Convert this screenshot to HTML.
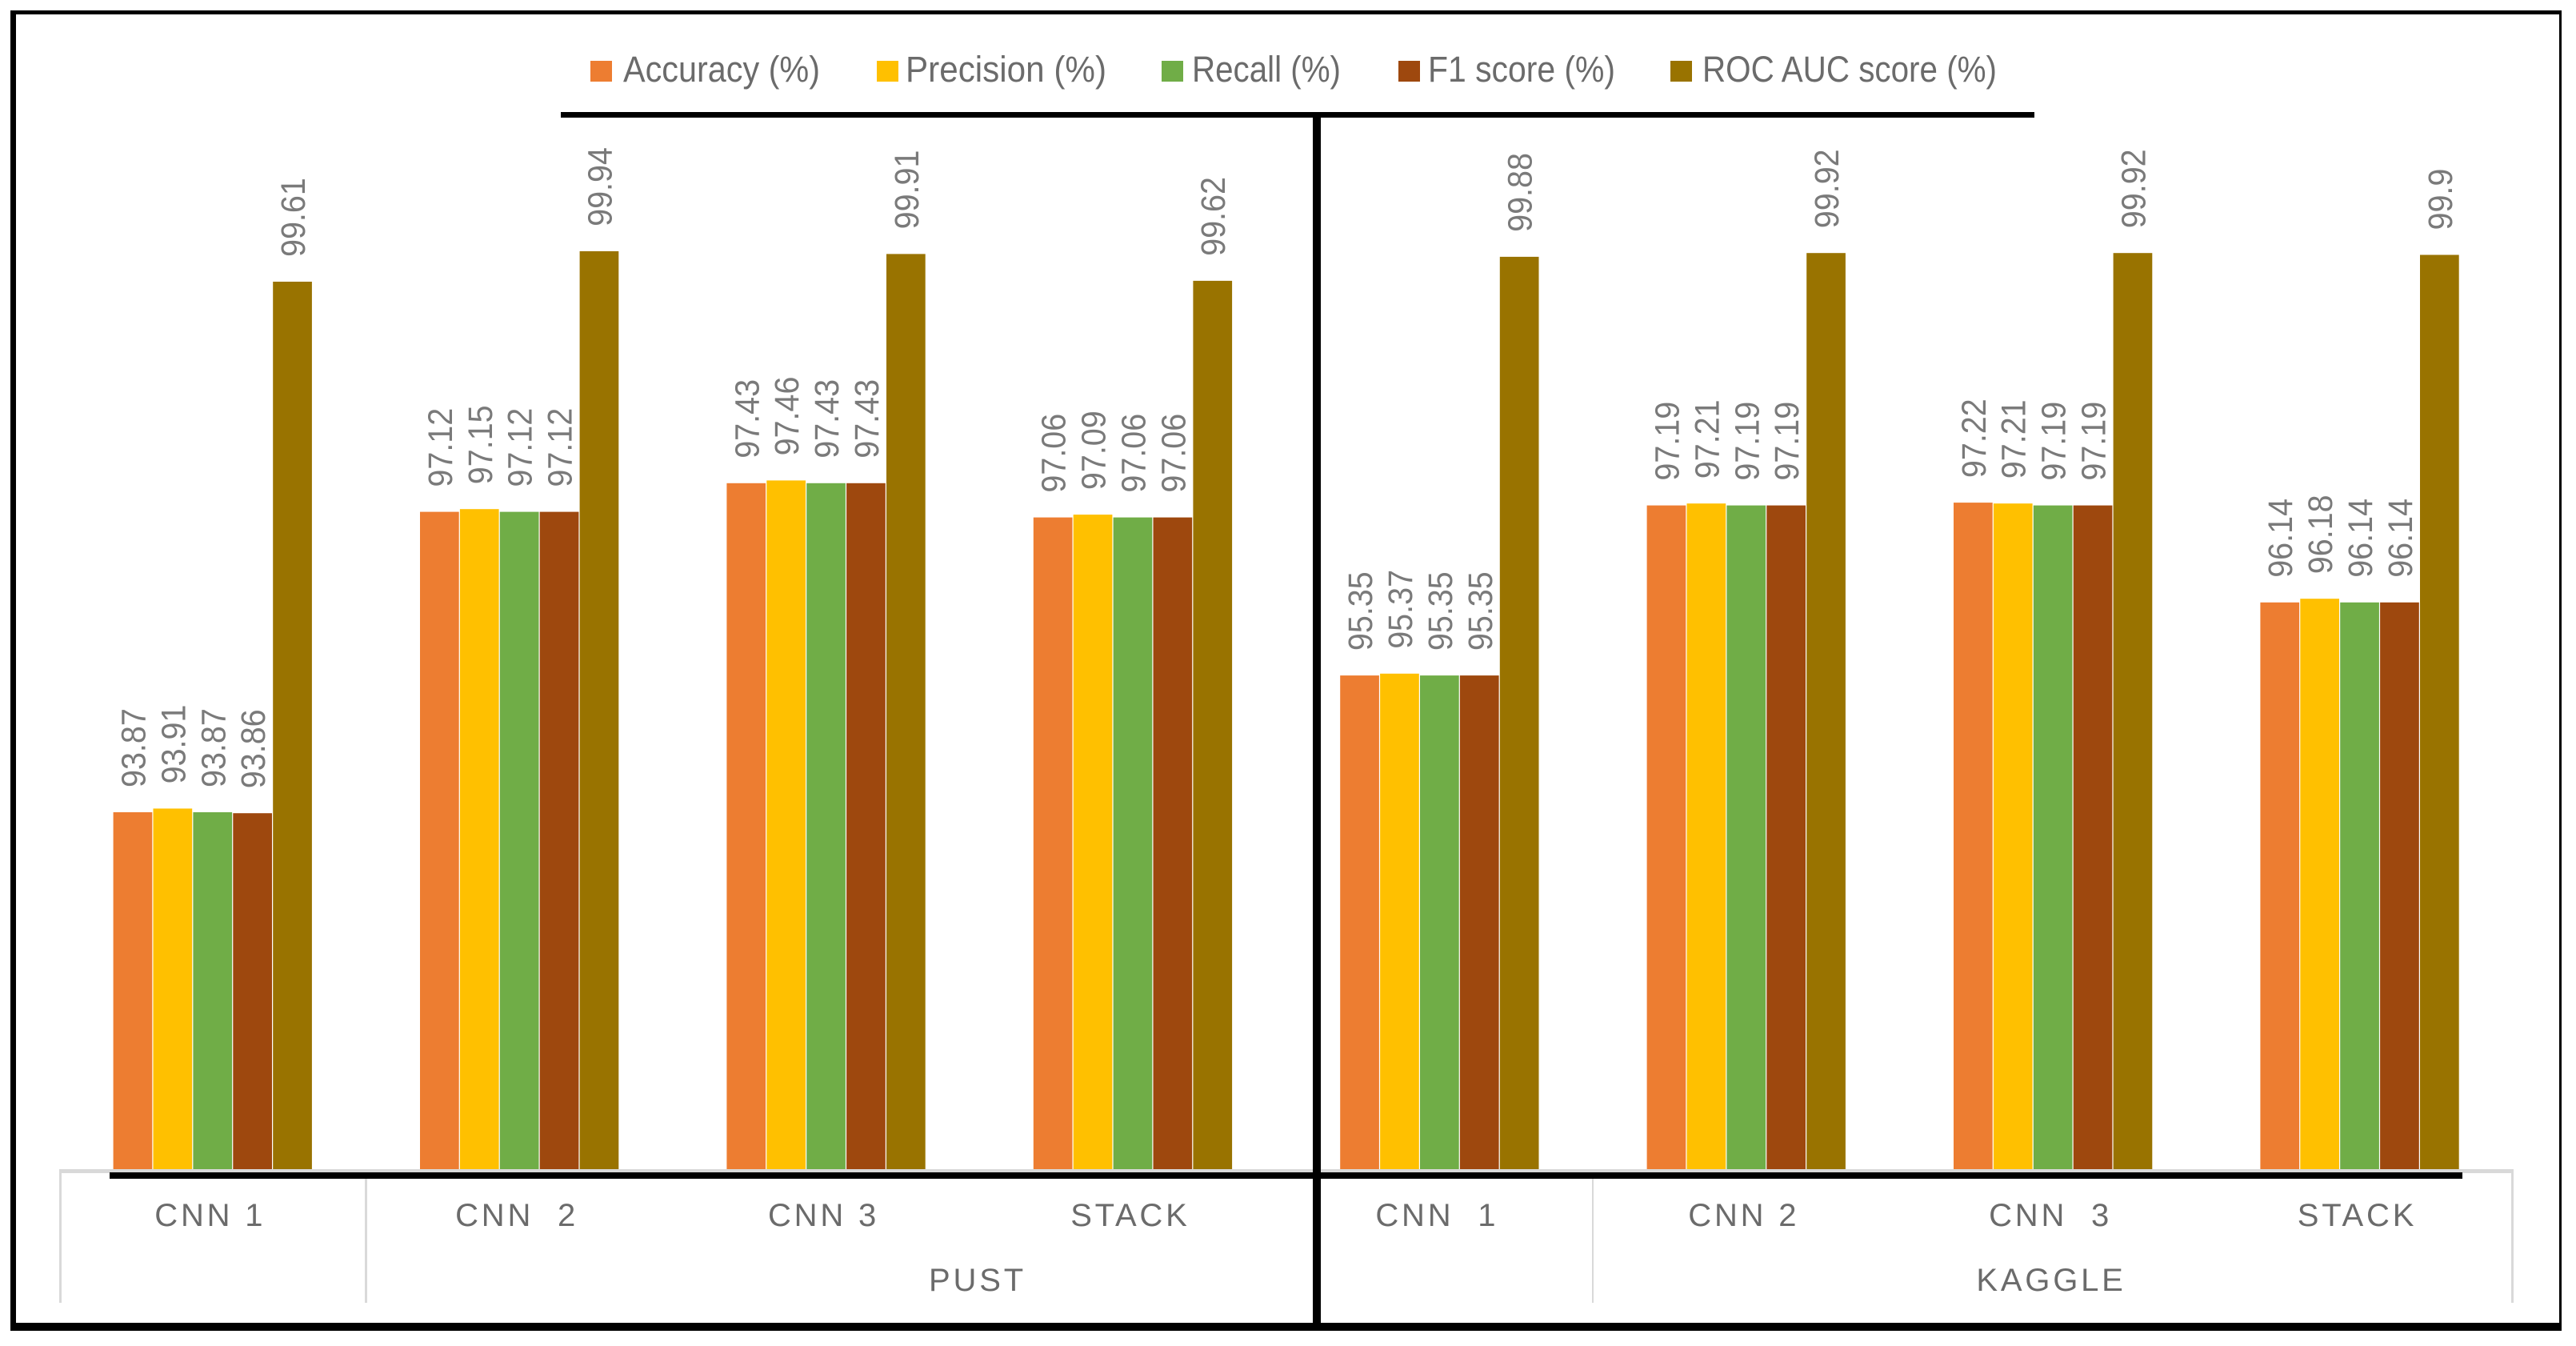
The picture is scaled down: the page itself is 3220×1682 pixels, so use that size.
<!DOCTYPE html>
<html lang="en">
<head>
<meta charset="utf-8">
<title>CNN and stack model performance on PUST and KAGGLE</title>
<style>
  html, body { margin: 0; padding: 0; background: #ffffff; }
  body { width: 3220px; height: 1682px; overflow: hidden; }
  svg { display: block; font-family: "Liberation Sans", sans-serif; }
  .legend-text { font-size: 45px; fill: #6b6b6b; }
  .value-label { font-size: 39.5px; fill: #7a7a7a; }
  .axis-label { font-size: 40px; fill: #6b6b6b; letter-spacing: 3.8px; white-space: pre; }
</style>
</head>
<body>
<svg id="chart" xmlns="http://www.w3.org/2000/svg" width="3220" height="1682" viewBox="0 0 3220 1682">
  <rect x="0" y="0" width="3220" height="1682" fill="#ffffff"/>

  <g id="bars"></g>
  <g id="value-labels"></g>

  <g>
    <rect x="75" y="1461" width="3066" height="5" fill="#d9d9d9"/>
    <rect x="74" y="1461" width="3" height="167" fill="#d9d9d9"/>
    <rect x="456" y="1466" width="3" height="162" fill="#d9d9d9"/>
    <rect x="1990" y="1466" width="2" height="162" fill="#d9d9d9"/>
    <rect x="3139" y="1461" width="3" height="167" fill="#d9d9d9"/>
  </g>
  <g id="axis-labels">
    <text class="axis-label" x="1222" y="1613" text-anchor="middle">PUST</text>
    <text class="axis-label" x="2564" y="1613" text-anchor="middle">KAGGLE</text>
  </g>

  <g>
    <g>
      <rect x="738" y="76" width="27" height="26" fill="#ed7d31"/>
      <text class="legend-text" x="779" y="102" textLength="246" lengthAdjust="spacingAndGlyphs">Accuracy (%)</text>
    </g>
    <g>
      <rect x="1096" y="76" width="27" height="26" fill="#ffc000"/>
      <text class="legend-text" x="1132" y="102" textLength="251" lengthAdjust="spacingAndGlyphs">Precision (%)</text>
    </g>
    <g>
      <rect x="1452" y="76" width="27" height="26" fill="#70ad47"/>
      <text class="legend-text" x="1490" y="102" textLength="186" lengthAdjust="spacingAndGlyphs">Recall (%)</text>
    </g>
    <g>
      <rect x="1748" y="76" width="27" height="26" fill="#9e480e"/>
      <text class="legend-text" x="1785" y="102" textLength="234" lengthAdjust="spacingAndGlyphs">F1 score (%)</text>
    </g>
    <g>
      <rect x="2088" y="76" width="27" height="26" fill="#997300"/>
      <text class="legend-text" x="2128" y="102" textLength="368" lengthAdjust="spacingAndGlyphs">ROC AUC score (%)</text>
    </g>
  </g>

  <g>
    <rect x="137" y="1465" width="2941" height="8" fill="#000000"/>
    <rect x="701" y="140" width="1842" height="7" fill="#000000"/>
    <rect x="1641" y="147" width="10" height="1508" fill="#000000"/>
  </g>

  <g>
    <rect x="13" y="13" width="3189" height="5" fill="#000000"/>
    <rect x="13" y="13" width="7" height="1650" fill="#000000"/>
    <rect x="3199" y="13" width="3" height="1650" fill="#000000"/>
    <rect x="13" y="1653" width="3189" height="10" fill="#000000"/>
  </g>
</svg>

<script>
const models = ["CNN 1", "CNN  2", "CNN 3", "STACK", "CNN  1", "CNN 2", "CNN  3", "STACK"];
const seriesNames = ["accuracy", "precision", "recall", "f1-score", "roc-auc"];
const seriesColors = ["#ed7d31", "#ffc000", "#70ad47", "#9e480e", "#997300"];
const accuracy = [93.87, 97.12, 97.43, 97.06, 95.35, 97.19, 97.22, 96.14];
const precision = [93.91, 97.15, 97.46, 97.09, 95.37, 97.21, 97.21, 96.18];
const recall = [93.87, 97.12, 97.43, 97.06, 95.35, 97.19, 97.19, 96.14];
const f1Score = [93.86, 97.12, 97.43, 97.06, 95.35, 97.19, 97.19, 96.14];
const rocAuc = [99.61, 99.94, 99.91, 99.62, 99.88, 99.92, 99.92, 99.9];

const seriesValues = [accuracy, precision, recall, f1Score, rocAuc];

const SVG_NS = "http://www.w3.org/2000/svg";
const AXIS_MIN = 90;
const AXIS_ZERO_Y = 1462;
const PX_PER_UNIT = 115.5;
const GROUP_START = 141;
const GROUP_STEP = 383.4;
const BAR_WIDTH = 49.9;

function yScale(v) {
  return AXIS_ZERO_Y - (v - AXIS_MIN) * PX_PER_UNIT;
}
function xScale(groupIndex, seriesIndex) {
  return GROUP_START + groupIndex * GROUP_STEP + seriesIndex * BAR_WIDTH;
}
function groupCenter(groupIndex) {
  return xScale(groupIndex, 0) + BAR_WIDTH * seriesValues.length / 2;
}

const barsLayer = document.getElementById("bars");
const valuesLayer = document.getElementById("value-labels");
const axisLabelsLayer = document.getElementById("axis-labels");

seriesValues.forEach(function (values, s) {
  values.forEach(function (v, g) {
    const x = xScale(g, s);
    const top = yScale(v);

    const bar = document.createElementNS(SVG_NS, "rect");
    bar.setAttribute("x", (x + 0.6).toFixed(1));
    bar.setAttribute("y", top.toFixed(1));
    bar.setAttribute("width", (BAR_WIDTH - 1.2).toFixed(1));
    bar.setAttribute("height", (AXIS_ZERO_Y - top).toFixed(1));
    bar.setAttribute("fill", seriesColors[s]);
    
    
    barsLayer.appendChild(bar);

    const label = document.createElementNS(SVG_NS, "text");
    const lx = x + BAR_WIDTH / 2 + 15.5;
    const ly = top - 31;
    label.setAttribute("class", "value-label");
    label.setAttribute("transform", "translate(" + lx.toFixed(1) + " " + ly.toFixed(1) + ") rotate(-90) scale(1 1.08)");
    
    
    label.textContent = String(v);
    valuesLayer.appendChild(label);
  });
});

models.forEach(function (name, g) {
  const t = document.createElementNS(SVG_NS, "text");
  t.setAttribute("class", "axis-label");
  t.setAttribute("x", (groupCenter(g) - 3).toFixed(1));
  t.setAttribute("y", "1532");
  t.setAttribute("text-anchor", "middle");
  t.setAttribute("xml:space", "preserve");
  
  
  t.textContent = name;
  axisLabelsLayer.appendChild(t);
});
</script>
</body>
</html>
